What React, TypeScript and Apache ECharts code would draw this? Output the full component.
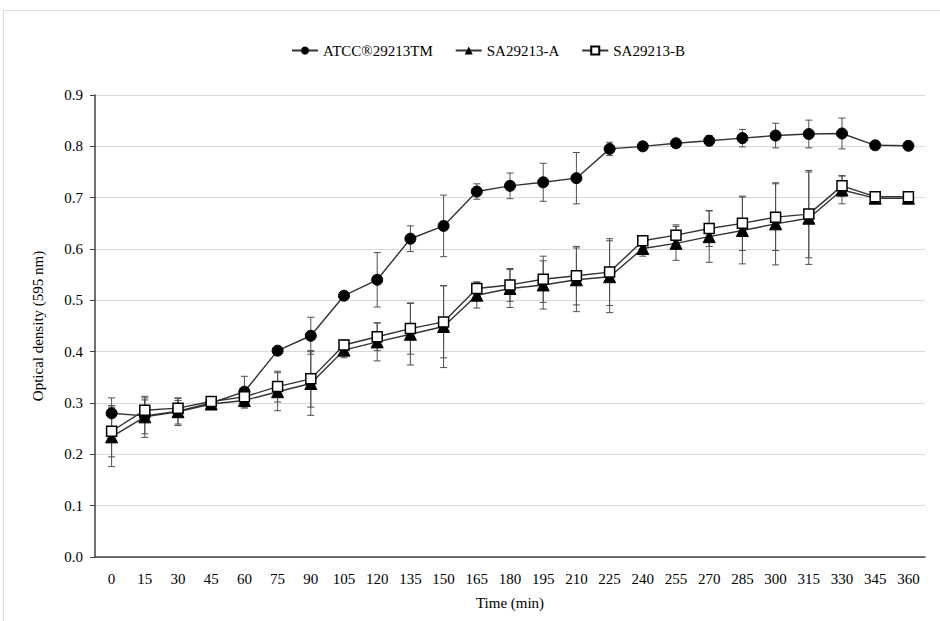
import React, { useEffect, useRef } from "react";
import * as echarts from "echarts";

const times = ["0","15","30","45","60","75","90","105","120","135","150","165","180","195","210","225","240","255","270","285","300","315","330","345","360"];
const yTicks = ["0.0","0.1","0.2","0.3","0.4","0.5","0.6","0.7","0.8","0.9"];

const atcc = [0.280,0.275,0.284,0.300,0.322,0.402,0.431,0.509,0.540,0.620,0.645,0.712,0.723,0.730,0.738,0.795,0.800,0.806,0.811,0.816,0.821,0.824,0.825,0.802,0.801];
const atccErr = [0.030,0.035,0.025,0.005,0.030,0.005,0.036,0.008,0.053,0.025,0.060,0.015,0.025,0.037,0.050,0.013,0.005,0.005,0.010,0.017,0.024,0.027,0.030,0.003,0.003];
const saA = [0.234,0.273,0.283,0.298,0.305,0.322,0.338,0.403,0.419,0.434,0.449,0.510,0.523,0.530,0.540,0.546,0.601,0.611,0.624,0.636,0.649,0.660,0.715,0.699,0.699];
const saAErr = [0.058,0.040,0.027,0.005,0.015,0.037,0.062,0.015,0.037,0.060,0.080,0.025,0.037,0.047,0.062,0.070,0.015,0.033,0.050,0.065,0.080,0.090,0.027,0.003,0.003];
const saB = [0.245,0.286,0.290,0.303,0.312,0.332,0.347,0.413,0.429,0.445,0.458,0.523,0.530,0.541,0.548,0.555,0.616,0.627,0.640,0.650,0.662,0.668,0.723,0.702,0.702];
const saBErr = [0.050,0.020,0.015,0.005,0.010,0.030,0.055,0.010,0.027,0.050,0.070,0.013,0.032,0.045,0.057,0.065,0.010,0.020,0.035,0.053,0.065,0.085,0.020,0.003,0.003];

const names = ["ATCC®29213TM", "SA29213-A", "SA29213-B"];
const FONT = "Liberation Serif";

function errData(vals: number[], errs: number[]) {
  return vals.map((v, i) => [i, v - errs[i], v + errs[i]]);
}

function renderErr(params: any, api: any) {
  const lo = api.coord([api.value(0), api.value(1)]);
  const hi = api.coord([api.value(0), api.value(2)]);
  const x = lo[0];
  const w = 3.5;
  const style = { stroke: "#505050", lineWidth: 1 };
  return {
    type: "group",
    children: [
      { type: "line", shape: { x1: x, y1: lo[1], x2: x, y2: hi[1] }, style },
      { type: "line", shape: { x1: x - w, y1: lo[1], x2: x + w, y2: lo[1] }, style },
      { type: "line", shape: { x1: x - w, y1: hi[1], x2: x + w, y2: hi[1] }, style },
    ],
  };
}

export default function App() {
  const ref = useRef<HTMLDivElement>(null);
  useEffect(() => {
    if (!ref.current) return;
    const chart = echarts.init(ref.current, undefined, { renderer: "svg" });
    const lineStyle = { color: "#333333", width: 1.4 };
    chart.setOption({
      animation: false,
      backgroundColor: "#ffffff",
      textStyle: { fontFamily: FONT },
      graphic: [
        {
          type: "rect",
          shape: { x: 3.5, y: 10.5, width: 1000, height: 1000 },
          style: { fill: "none", stroke: "#dcdcdc", lineWidth: 1 },
          silent: true,
        },
      ],
      legend: {
        data: names,
        top: 38,
        left: 286,
        itemGap: 22,
        itemWidth: 26,
        itemHeight: 10,
        textStyle: { fontFamily: FONT, fontSize: 15, color: "#000" },
      },
      grid: { left: 95, right: 15, top: 95, bottom: 64 },
      xAxis: {
        type: "category",
        data: times,
        boundaryGap: true,
        name: "Time (min)",
        nameLocation: "middle",
        nameGap: 38,
        nameTextStyle: { fontFamily: FONT, fontSize: 15, color: "#000", verticalAlign: "top" },
        axisLine: { lineStyle: { color: "#404040", width: 1.5 } },
        axisTick: { alignWithLabel: true, length: 5, lineStyle: { color: "#404040" } },
        axisLabel: { fontFamily: FONT, fontSize: 15, color: "#000", margin: 14, interval: 0 },
        splitLine: { show: false },
      },
      yAxis: {
        type: "value",
        min: 0,
        max: 0.9,
        interval: 0.1,
        name: "Optical density (595 nm)",
        nameLocation: "middle",
        nameGap: 50,
        nameTextStyle: { fontFamily: FONT, fontSize: 15, color: "#000" },
        axisLine: { show: true, lineStyle: { color: "#404040", width: 1.5 } },
        axisTick: { show: true, length: 5, lineStyle: { color: "#404040" } },
        axisLabel: {
          fontFamily: FONT,
          fontSize: 15,
          color: "#000",
          margin: 12,
          formatter: (v: number) => yTicks[Math.round(v * 10)] ?? v.toFixed(1),
        },
        splitLine: { lineStyle: { color: "#d9d9d9", width: 1.2 } },
      },
      series: [
        { type: "custom", renderItem: renderErr, data: errData(atcc, atccErr), encode: { x: 0, y: [1, 2] }, z: 1, silent: true },
        { type: "custom", renderItem: renderErr, data: errData(saA, saAErr), encode: { x: 0, y: [1, 2] }, z: 1, silent: true },
        { type: "custom", renderItem: renderErr, data: errData(saB, saBErr), encode: { x: 0, y: [1, 2] }, z: 1, silent: true },
        {
          name: names[0],
          type: "line",
          data: atcc,
          symbol: "circle",
          symbolSize: 11,
          showAllSymbol: true,
          lineStyle,
          itemStyle: { color: "#000", borderColor: "#000" },
          z: 3,
        },
        {
          name: names[1],
          type: "line",
          data: saA,
          symbol: "triangle",
          symbolSize: 12,
          showAllSymbol: true,
          lineStyle,
          itemStyle: { color: "#000", borderColor: "#000" },
          z: 3,
        },
        {
          name: names[2],
          type: "line",
          data: saB,
          symbol: "rect",
          symbolSize: 10,
          showAllSymbol: true,
          lineStyle,
          itemStyle: { color: "#ffffff", borderColor: "#000", borderWidth: 1.5 },
          z: 4,
        },
      ],
    });
    return () => chart.dispose();
  }, []);
  return <div ref={ref} style={{ position: "fixed", left: 0, top: 0, width: 940, height: 621 }} />;
}
